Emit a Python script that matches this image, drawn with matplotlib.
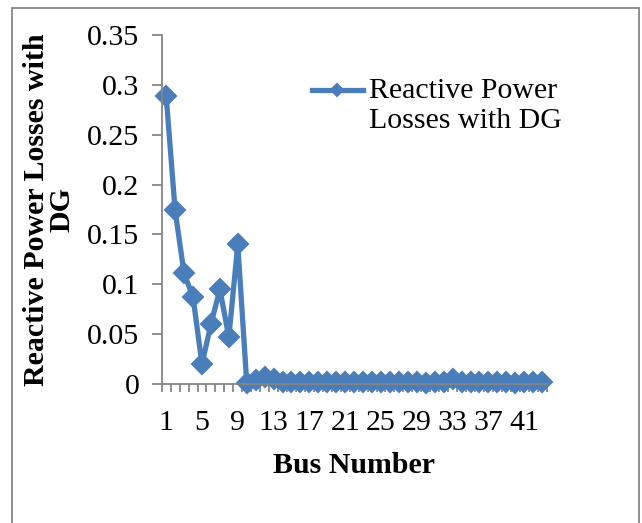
import numpy as np
import matplotlib
matplotlib.use("Agg")
import matplotlib.pyplot as plt
from matplotlib.patches import Rectangle

# bus numbers and reactive losses
buses = list(range(1, 44))
q_loss = [0.289, 0.174, 0.111, 0.087, 0.020, 0.060, 0.095, 0.047, 0.140, 0.001,
          0.004, 0.007, 0.005, 0.002, 0.002, 0.002, 0.002, 0.002, 0.002, 0.002,
          0.002, 0.002, 0.002, 0.002, 0.002, 0.002, 0.002, 0.002, 0.002, 0.001,
          0.002, 0.002, 0.005, 0.002, 0.002, 0.002, 0.002, 0.002, 0.002, 0.001,
          0.002, 0.002, 0.002]
xtick_labels = [1, 5, 9, 13, 17, 21, 25, 29, 33, 37, 41]
yticks = [0, 0.05, 0.1, 0.15, 0.2, 0.25, 0.3, 0.35]
ytick_labels = ["0", "0.05", "0.1", "0.15", "0.2", "0.25", "0.3", "0.35"]

W, H = 642, 523
plt.rcParams["font.family"] = ["Liberation Serif", "DejaVu Serif"]
fig = plt.figure(figsize=(W / 100, H / 100), dpi=100)

# outer chart border (bottom runs off the image)
fig.add_artist(Rectangle((12 / W, -0.1), (639 - 12) / W, 1.1 - 8 / H,
                         transform=fig.transFigure, fill=False,
                         edgecolor="#868686", linewidth=1.3))

left, right, top, bottom = 161.7, 546.6, 35, 384
ax = fig.add_axes([left / W, 1 - bottom / H, (right - left) / W, (bottom - top) / H])

blue = "#4A7EBB"
ax.plot(buses, q_loss, color=blue, linewidth=3.8, marker="D", markersize=10.5,
        markeredgewidth=1.5, markerfacecolor=blue, markeredgecolor=blue,
        label="Reactive Power\nLosses with DG", clip_on=False)

ax.set_xlim(0.5, len(buses) + 0.5)
ax.set_ylim(0, 0.35)

for s in ["top", "right"]:
    ax.spines[s].set_visible(False)
for s in ["left", "bottom"]:
    ax.spines[s].set_color("#868686")
    ax.spines[s].set_linewidth(1.3)

fs = 21.5
ax.set_yticks(yticks)
ax.set_yticklabels(ytick_labels, fontsize=fs)
ax.tick_params(axis="y", length=7, width=1.3, color="#868686", pad=9)

ax.set_xticks(xtick_labels)
ax.set_xticklabels([str(b) for b in xtick_labels], fontsize=fs)
ax.set_xticks(np.arange(0.5, len(buses) + 1, 1), minor=True)
ax.tick_params(axis="x", which="major", length=0, pad=19)
ax.tick_params(axis="x", which="minor", length=6, width=1.3, color="#868686")

ax.set_xlabel("Bus Number", fontsize=fs, fontweight="bold", labelpad=11)
ax.set_ylabel("Reactive Power Losses with\nDG", fontsize=fs, fontweight="bold",
              linespacing=0.9)
ax.yaxis.set_label_coords(-0.225, 0.5)

leg = ax.legend(loc="upper left", bbox_to_anchor=(312 / W, 1 - 78 / H),
                bbox_transform=fig.transFigure, frameon=False, fontsize=fs,
                borderpad=0, borderaxespad=0, handlelength=1.7, handletextpad=0.2,
                markerscale=0.6)
# lift the legend sample up to the first text line, as in the original
for ln in leg.get_lines():
    ln.set_ydata(np.asarray(ln.get_ydata()) + 11.5)

fig.savefig("out.png", dpi=100)
